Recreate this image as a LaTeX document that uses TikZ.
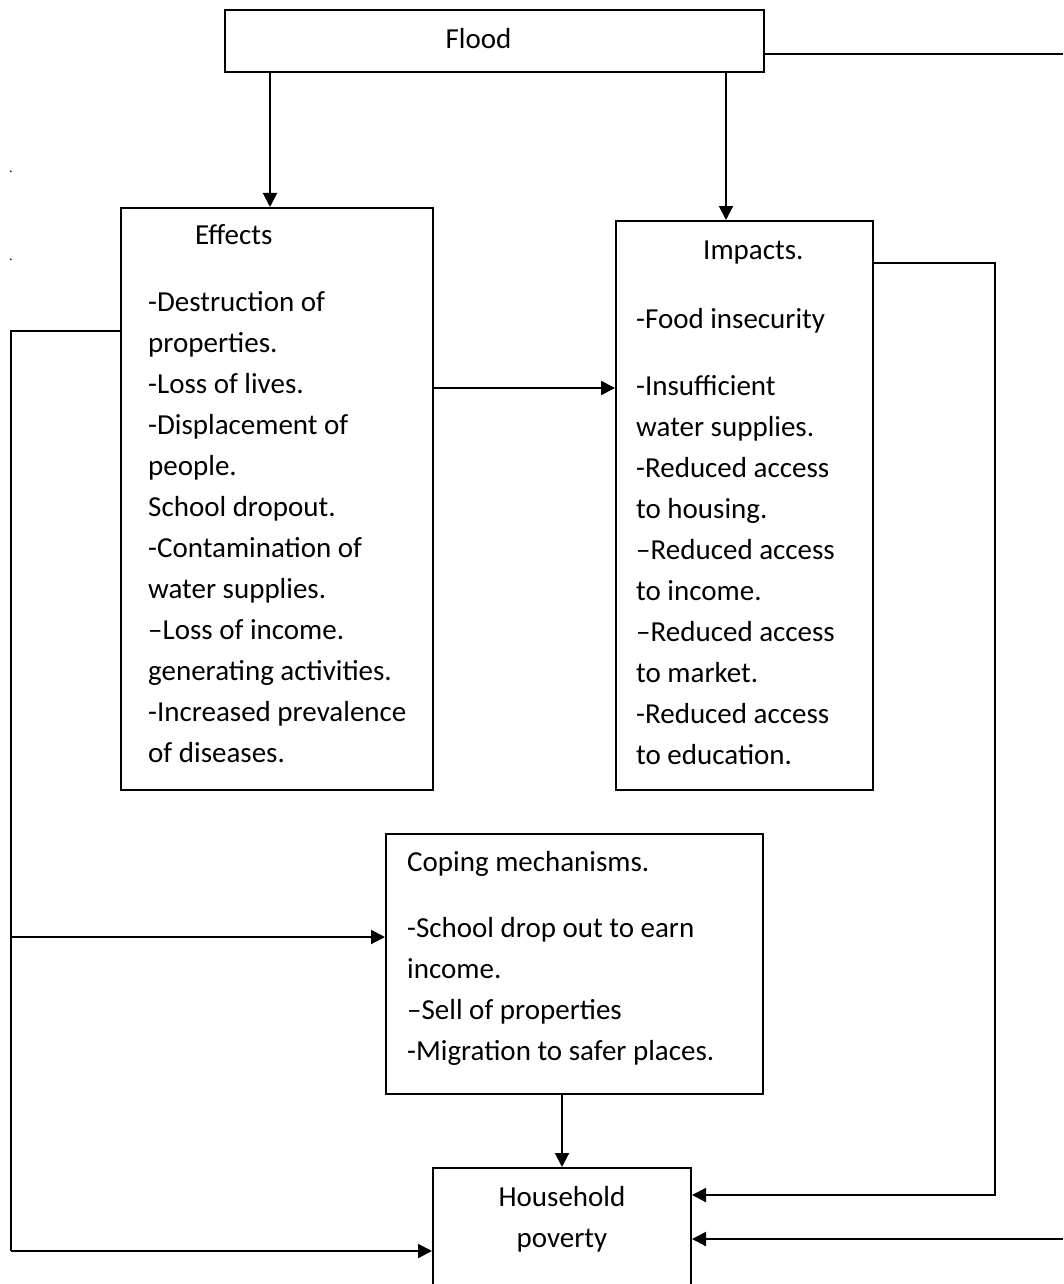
\documentclass[tikz,border=0pt]{standalone}
\usepackage{fontspec}
\setmainfont{Carlito}
\usepackage{tikz}
\usetikzlibrary{arrows.meta,positioning,calc}

\begin{document}
\begin{tikzpicture}[x=1pt,y=1pt,>={Triangle[length=14pt,width=14pt]},
  box/.style={draw,line width=2pt,rectangle,anchor=north west,inner sep=0pt},
  txt/.style={anchor=north west,inner sep=0pt,align=left,font=\fontsize{29}{41}\selectfont},
  line/.style={line width=2pt},
  arr/.style={line width=2pt,->}]
\useasboundingbox (0,0) rectangle (1063,-1284);
% boxes
\node[box,minimum width=539pt,minimum height=62pt,font=\fontsize{29}{41}\selectfont] (flood) at (224,-9) {\raisebox{5pt}{Flood}\hspace*{32pt}};
\node[box,minimum width=312pt,minimum height=582pt] (effects) at (120,-207) {};
\node[box,minimum width=257pt,minimum height=569pt] (impacts) at (615,-220) {};
\node[box,minimum width=377pt,minimum height=260pt] (coping) at (385,-833) {};
\node[box,minimum width=258pt,minimum height=130pt] (house) at (432,-1167) {};
% texts
\node[txt] (effectstxt) at (148,-215.3) {\strut\hspace*{47pt}Effects\\[26pt]
-Destruction of\\ properties.\\ -Loss of lives.\\ -Displacement of\\ people.\\ School dropout.\\
-Contamination of\\ water supplies.\\ –Loss of income.\\ generating activities.\\
-Increased prevalence\\ of diseases.};
\node[txt] (impactstxt) at (636,-230.3) {\strut\hspace*{67pt}Impacts.\\[28pt]
-Food insecurity\\[26pt] -Insufficient\\ water supplies.\\ -Reduced access\\ to housing.\\
–Reduced access\\ to income.\\ –Reduced access\\ to market.\\ -Reduced access\\ to education.};
\node[txt] (copingtxt) at (407,-842.3) {\strut Coping mechanisms.\\[25pt]
-School drop out to earn\\ income.\\ –Sell of properties\\ -Migration to safer places.};
\node[txt,anchor=north,align=center] (housetxt) at (562,-1177.3) {\strut Household\\ poverty};
\node[inner sep=0pt,font=\fontsize{14}{16}\selectfont] (dotA) at (11,-172) {.};
\node[inner sep=0pt,font=\fontsize{14}{16}\selectfont] (dotB) at (11,-260) {.};
% bends
\coordinate (fr) at (1063,-54);
\coordinate (fr2) at (1063,-1239);
\coordinate (ir) at (995,-263);
\coordinate (ib) at (995,-1195);
\coordinate (el) at (11,-331);
\coordinate (ec) at (11,-937);
\coordinate (eb) at (11,-1251);
\coordinate (mid) at (520,-388);
% connectors
\draw[arr] ([xshift=-7pt]effects.north |- flood.south) -- ([xshift=-7pt]effects.north);
\draw[arr] ([xshift=-18.5pt]impacts.north |- flood.south) -- ([xshift=-18.5pt]impacts.north);
\draw[line] (flood.east |- fr) -- (fr);
\draw[arr] (fr2) -- (house.east |- fr2);
\draw[arr] (impacts.east |- ir) -- (ir) -- (ib) -- (house.east |- ib);
\draw[line] (effects.west |- el) -- (el) -- (eb);
\draw[arr] (eb) -- (house.west |- eb);
\draw[arr] (ec) -- (coping.west |- ec);
\draw[arr] (effects.east |- mid) -- (impacts.west |- mid);
\draw[arr] (coping.south -| house.north) -- (house.north);
\end{tikzpicture}
\end{document}
